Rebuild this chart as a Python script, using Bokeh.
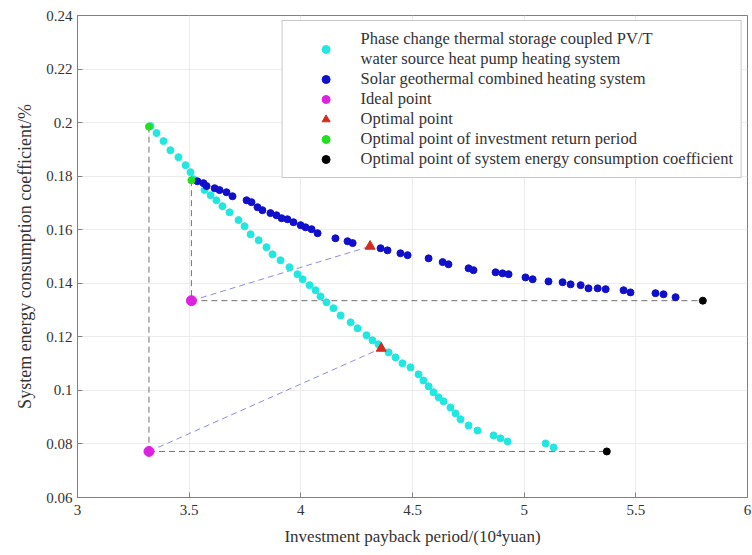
from bokeh.plotting import figure
from bokeh.models import Range1d, Legend, LegendItem, FixedTicker, CustomJSTickFormatter
from bokeh.embed import file_html
from bokeh.resources import INLINE

# Phase change thermal storage coupled PV/T water source heat pump heating system
pcm_x = [3.327, 3.354, 3.385, 3.416, 3.452, 3.484, 3.506, 3.519, 3.569, 3.596, 3.622, 3.649,
         3.681, 3.721, 3.748, 3.775, 3.811, 3.846, 3.873, 3.909, 3.949, 3.985, 4.008, 4.039,
         4.066, 4.088, 4.115, 4.146, 4.178, 4.223, 4.254, 4.294, 4.321, 4.348, 4.393, 4.424,
         4.455, 4.491, 4.527, 4.549, 4.572, 4.594, 4.617, 4.639, 4.670, 4.693, 4.715, 4.751,
         4.791, 4.863, 4.894, 4.926, 5.096, 5.132]
pcm_y = [0.1987, 0.1961, 0.1931, 0.1897, 0.1871, 0.1841, 0.1815, 0.1789, 0.1748, 0.1729, 0.1710, 0.1688,
         0.1665, 0.1636, 0.1613, 0.1583, 0.1561, 0.1535, 0.1508, 0.1486, 0.1460, 0.1434, 0.1415, 0.1393,
         0.1374, 0.1351, 0.1329, 0.1307, 0.1280, 0.1254, 0.1232, 0.1206, 0.1187, 0.1172, 0.1142, 0.1123,
         0.1101, 0.1086, 0.1060, 0.1037, 0.1015, 0.0993, 0.0974, 0.0959, 0.0936, 0.0914, 0.0892, 0.0869,
         0.0850, 0.0832, 0.0821, 0.0809, 0.0802, 0.0787]

# Solar geothermal combined heating system
sg_x = [3.537, 3.564, 3.578, 3.614, 3.636, 3.667, 3.694, 3.757, 3.779, 3.806, 3.828, 3.864,
        3.891, 3.914, 3.940, 3.967, 3.999, 4.021, 4.048, 4.075, 4.155, 4.209, 4.232, 4.357,
        4.388, 4.446, 4.478, 4.572, 4.635, 4.661, 4.751, 4.773, 4.872, 4.903, 4.930, 5.006,
        5.038, 5.109, 5.172, 5.208, 5.253, 5.288, 5.329, 5.365, 5.445, 5.476, 5.588, 5.624, 5.678]
sg_y = [0.1781, 0.1774, 0.1763, 0.1755, 0.1748, 0.1740, 0.1725, 0.1710, 0.1703, 0.1684, 0.1673, 0.1662,
        0.1654, 0.1643, 0.1639, 0.1628, 0.1617, 0.1609, 0.1602, 0.1587, 0.1568, 0.1557, 0.1550, 0.1531,
        0.1523, 0.1512, 0.1505, 0.1493, 0.1479, 0.1471, 0.1456, 0.1449, 0.1441, 0.1437, 0.1434, 0.1422,
        0.1415, 0.1407, 0.1404, 0.1396, 0.1393, 0.1381, 0.1381, 0.1378, 0.1374, 0.1366, 0.1363, 0.1359, 0.1348]

ideal_x = [3.32, 3.51]
ideal_y = [0.0772, 0.1335]
opt_x = [4.36, 4.31]
opt_y = [0.1157, 0.1538]
invest_x = [3.32, 3.51]
invest_y = [0.1985, 0.1785]
energy_x = [5.37, 5.80]
energy_y = [0.0772, 0.1335]

x_ticks = [3, 3.5, 4, 4.5, 5, 5.5, 6]
y_ticks = [0.06, 0.08, 0.1, 0.12, 0.14, 0.16, 0.18, 0.2, 0.22, 0.24]

labels = ["Phase change thermal storage coupled PV/T\nwater source heat pump heating system",
          "Solar geothermal combined heating system",
          "Ideal point",
          "Optimal point",
          "Optimal point of investment return period",
          "Optimal point of system energy consumption coefficient"]

FONT = "Liberation Serif"

p = figure(width=752, height=555, output_backend="svg", toolbar_location=None,
           x_range=Range1d(3, 6), y_range=Range1d(0.06, 0.24),
           min_border_left=77, min_border_right=5, min_border_top=15, min_border_bottom=58)
p.background_fill_color = "white"
p.border_fill_color = "white"
p.outline_line_color = "#808080"
p.outline_line_width = 1

for ax in (p.xaxis[0], p.yaxis[0]):
    ax.axis_line_color = "#808080"
    ax.major_tick_line_color = "#808080"
    ax.major_tick_in = 5
    ax.major_tick_out = 0
    ax.minor_tick_line_color = None
    ax.major_label_text_font = FONT
    ax.major_label_text_font_size = "15px"
    ax.major_label_text_color = "#333333"
    ax.axis_label_text_font = FONT
    ax.axis_label_text_font_style = "normal"
    ax.axis_label_text_color = "#333333"
    ax.formatter = CustomJSTickFormatter(code="return tick.toString();")

p.xaxis[0].ticker = FixedTicker(ticks=x_ticks)
p.yaxis[0].ticker = FixedTicker(ticks=y_ticks)
p.xaxis[0].axis_label = "Investment payback period/(10\u2074yuan)"
p.yaxis[0].axis_label = "System energy consumption coefficient/%"
p.xaxis[0].axis_label_text_font_size = "17px"
p.yaxis[0].axis_label_text_font_size = "18px"
p.xaxis[0].major_label_standoff = 7
p.yaxis[0].major_label_standoff = 5
p.xaxis[0].axis_label_standoff = 9
p.yaxis[0].axis_label_standoff = 8

p.grid.grid_line_color = "#ececec"
p.grid.grid_line_width = 1

# guide lines
for i in range(2):
    p.line([invest_x[i], ideal_x[i]], [invest_y[i], ideal_y[i]],
           line_color="#707070", line_dash="6 4", line_width=1)
    p.line([ideal_x[i], energy_x[i]], [ideal_y[i], energy_y[i]],
           line_color="#707070", line_dash="6 4", line_width=1)
    p.line([ideal_x[i], opt_x[i]], [ideal_y[i], opt_y[i]],
           line_color="#8c8ce0", line_dash="6 4", line_width=1)

r_pcm = p.scatter(pcm_x, pcm_y, size=7, marker="circle", fill_color="#20e8e0", line_color="#20e8e0")
r_sg = p.scatter(sg_x, sg_y, size=7, marker="circle", fill_color="#1010cc", line_color="#1010cc")
r_ideal = p.scatter(ideal_x, ideal_y, size=10, marker="circle", fill_color="#e020e0", line_color="#e020e0")
r_opt = p.scatter(opt_x, opt_y, size=10, marker="triangle", fill_color="#d42a20", line_color="#d42a20")
r_inv = p.scatter(invest_x, invest_y, size=7, marker="circle", fill_color="#20e020", line_color="#20e020")
r_en = p.scatter(energy_x, energy_y, size=7, marker="circle", fill_color="black", line_color="black")

items = [LegendItem(label=l, renderers=[r]) for l, r in
         zip(labels, [r_pcm, r_sg, r_ideal, r_opt, r_inv, r_en])]
legend = Legend(items=items, location="top_right")
legend.margin = 5
legend.padding = 8
legend.spacing = 0
legend.glyph_width = 70
legend.glyph_height = 20
legend.label_height = 20
legend.label_standoff = 0
legend.label_text_font = FONT
legend.label_text_font_size = "16.5px"
legend.label_text_color = "#333333"
legend.label_text_line_height = 1.0
legend.border_line_color = "#909090"
legend.border_line_width = 1.5
legend.background_fill_color = "white"
legend.background_fill_alpha = 1
p.add_layout(legend, "center")

open("out.html", "w").write(file_html(p, INLINE))
